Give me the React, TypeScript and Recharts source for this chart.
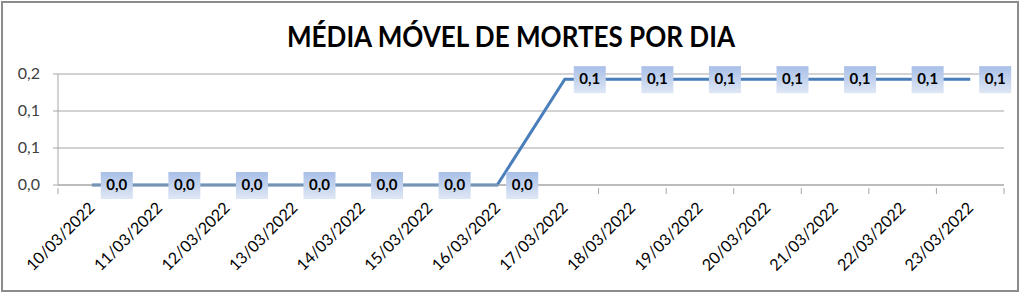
import React from "react";
import {
  LineChart,
  Line,
  XAxis,
  YAxis,
  CartesianGrid,
  LabelList,
} from "recharts";

const DATES = [
  "10/03/2022",
  "11/03/2022",
  "12/03/2022",
  "13/03/2022",
  "14/03/2022",
  "15/03/2022",
  "16/03/2022",
  "17/03/2022",
  "18/03/2022",
  "19/03/2022",
  "20/03/2022",
  "21/03/2022",
  "22/03/2022",
  "23/03/2022",
];
const MEDIA = [0, 0, 0, 0, 0, 0, 0, 0.143, 0.143, 0.143, 0.143, 0.143, 0.143, 0.143];
const Y_TICKS = [0, 0.05, 0.1, 0.15];
const Y_LABELS = ["0,0", "0,1", "0,1", "0,2"];

const TITLE = "MÉDIA MÓVEL DE MORTES POR DIA";

const data = DATES.map((d, i) => ({ dia: d, media: MEDIA[i] }));

const W = 1024;
const H = 295;
const PLOT_LEFT = 58;
const PLOT_RIGHT = 1004;
const BAND = (PLOT_RIGHT - PLOT_LEFT) / DATES.length;
const FONT = "Lato, 'Open Sans', sans-serif";

const fmt = (v: number) => v.toFixed(1).replace(".", ",");

const XTick = (props: any) => {
  const { x, y, payload, index } = props;
  const left = x - BAND / 2;
  return (
    <g>
      <line x1={left} x2={left} y1={y - 5} y2={y + 1} stroke="#a6a6a6" />
      {index === DATES.length - 1 && (
        <line x1={x + BAND / 2} x2={x + BAND / 2} y1={y - 5} y2={y + 1} stroke="#a6a6a6" />
      )}
      <text
        x={x + 4}
        y={y + 16}
        transform={`rotate(-45, ${x + 4}, ${y + 16})`}
        textAnchor="end"
        fontSize={16}
        fontFamily={FONT}
        fill="#000"
      >
        {payload.value}
      </text>
    </g>
  );
};

const YTick = (props: any) => {
  const { x, y, payload, index } = props;
  return (
    <text
      x={x}
      y={y}
      dy={5}
      textAnchor="end"
      fontSize={16}
      fontFamily={FONT}
      fill="#404040"
    >
      {Y_LABELS[index] ?? fmt(payload.value)}
    </text>
  );
};

const DataLabel = (props: any) => {
  const { x, y, value } = props;
  return (
    <g>
      <rect x={x + 9} y={y - 13} width={32} height={27} fill="url(#lblGrad)" />
      <text
        x={x + 25}
        y={y + 5}
        textAnchor="middle"
        fontSize={15}
        fontWeight="bold"
        fontFamily={FONT}
        fill="#000"
      >
        {fmt(value)}
      </text>
    </g>
  );
};

export default function App() {
  return (
    <div
      style={{
        position: "fixed",
        left: 0,
        top: 0,
        width: W,
        height: H,
        background: "#fff",
      }}
    >
      <LineChart
        width={W}
        height={H}
        data={data}
        margin={{ top: 74, right: W - PLOT_RIGHT, bottom: 10, left: 0 }}
      >
        <defs>
          <linearGradient id="lblGrad" x1="0" y1="0" x2="0" y2="1">
            <stop offset="0%" stopColor="#a8bfe7" />
            <stop offset="100%" stopColor="#dfe7f5" />
          </linearGradient>
        </defs>
        <CartesianGrid vertical={false} stroke="#a6a6a6" />
        <XAxis
          dataKey="dia"
          interval={0}
          height={100}
          padding={{ left: BAND / 2, right: BAND / 2 }}
          tickLine={false}
          axisLine={{ stroke: "#a6a6a6" }}
          tick={<XTick />}
        />
        <YAxis
          width={PLOT_LEFT}
          domain={[0, 0.15]}
          ticks={Y_TICKS}
          tickSize={5}
          tickMargin={13}
          tickLine={{ stroke: "#a6a6a6" }}
          axisLine={{ stroke: "#a6a6a6" }}
          tick={<YTick />}
        />
        <Line
          type="linear"
          dataKey="media"
          stroke="#4a7ebb"
          strokeWidth={3}
          dot={false}
          isAnimationActive={false}
        >
          <LabelList dataKey="media" content={<DataLabel />} />
        </Line>
      </LineChart>
      <svg
        width={W}
        height={H}
        style={{ position: "absolute", left: 0, top: 0, pointerEvents: "none" }}
      >
        <rect x={2} y={2} width={1016} height={289} fill="none" stroke="#8c8c8c" strokeWidth={2} />
        <text
          x={287}
          y={47}
          textLength={448}
          lengthAdjust="spacingAndGlyphs"
          fontSize={29}
          fontWeight="bold"
          fontFamily={FONT}
          fill="#000"
        >
          {TITLE}
        </text>
      </svg>
    </div>
  );
}
